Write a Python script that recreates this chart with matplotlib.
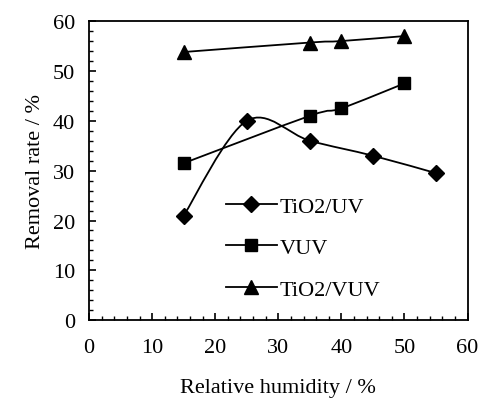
import numpy as np
import matplotlib
matplotlib.use("Agg")
import matplotlib.pyplot as plt
from matplotlib.path import Path
from matplotlib.patches import PathPatch
from matplotlib.ticker import MultipleLocator
from matplotlib.lines import Line2D

plt.rcParams['font.family'] = ['Liberation Serif', 'DejaVu Serif']

# data
hum_uv = [15, 25, 35, 45, 55]
rate_uv = [21, 40, 36, 33, 29.5]

hum_vuv = [15, 35, 40, 50]
rate_vuv = [31.5, 41, 42.5, 47.5]

hum_tvuv = [15, 35, 40, 50]
rate_tvuv = [53.8, 55.7, 56, 57]

labels = ["TiO2/UV", "VUV", "TiO2/VUV"]
markers = ["D", "s", "^"]


def smooth_path(x, y):
    # Excel style smoothed line (Catmull-Rom as cubic Bezier)
    x = np.asarray(x, float)
    y = np.asarray(y, float)
    n = len(x)
    verts = [(x[0], y[0])]
    codes = [Path.MOVETO]
    for i in range(n - 1):
        i0 = max(i - 1, 0)
        i3 = min(i + 2, n - 1)
        c1 = (x[i] + (x[i + 1] - x[i0]) / 6, y[i] + (y[i + 1] - y[i0]) / 6)
        c2 = (x[i + 1] - (x[i3] - x[i]) / 6, y[i + 1] - (y[i3] - y[i]) / 6)
        verts += [c1, c2, (x[i + 1], y[i + 1])]
        codes += [Path.CURVE4] * 3
    return Path(verts, codes)


fig = plt.figure(figsize=(4.79, 4.02), dpi=100)
ax = fig.add_axes([0.186, 0.201, 0.790, 0.744])

series = [(hum_uv, rate_uv), (hum_vuv, rate_vuv), (hum_tvuv, rate_tvuv)]
sizes = [8.5, 9, 9.5]
handles = []
for (xs, ys), m, lab, ms in zip(series, markers, labels, sizes):
    ax.add_patch(PathPatch(smooth_path(xs, ys), facecolor='none', edgecolor='black', lw=1.3))
    ax.plot(xs, ys, linestyle='none', marker=m, color='black', markersize=ms)
    handles.append(Line2D([], [], color='black', lw=1.3, marker=m, markersize=ms))

ax.set_xlim(0, 60)
ax.set_ylim(0, 60)
ax.xaxis.set_major_locator(MultipleLocator(10))
ax.xaxis.set_minor_locator(MultipleLocator(2))
ax.yaxis.set_major_locator(MultipleLocator(10))
ax.yaxis.set_minor_locator(MultipleLocator(2))
ax.tick_params(which='both', direction='in', top=False, right=False, labelsize=16)
ax.tick_params(axis='x', pad=13)
ax.tick_params(axis='y', pad=10)
ax.tick_params(which='major', length=5, width=1.2)
ax.tick_params(which='minor', length=3, width=1.0)
for s in ax.spines.values():
    s.set_linewidth(1.3)

ax.set_xlabel("Relative humidity / %", fontsize=16, labelpad=15)
ax.set_ylabel("Removal rate / %", fontsize=16, labelpad=6)

ax.legend(handles, labels, loc='upper left', bbox_to_anchor=(0.337, 0.445),
          frameon=False, fontsize=16, handlelength=2.3, labelspacing=0.95,
          handletextpad=0.15, borderaxespad=0)

fig.savefig("out.png", dpi=100)
